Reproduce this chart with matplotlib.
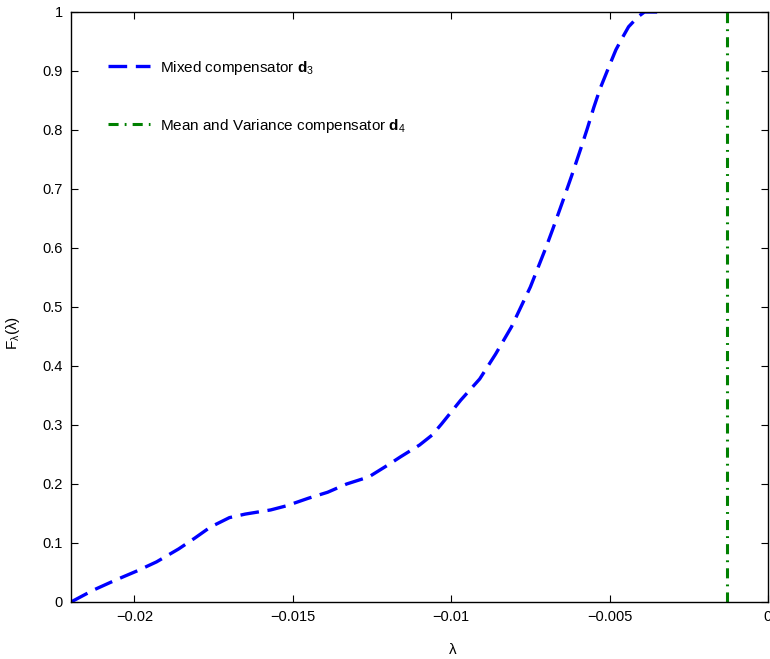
import matplotlib
matplotlib.use("Agg")
import matplotlib.pyplot as plt

plt.rcParams['font.family'] = ['Liberation Sans', 'DejaVu Sans']
plt.rcParams['mathtext.fontset'] = 'custom'
plt.rcParams['mathtext.rm'] = 'Liberation Sans'
plt.rcParams['mathtext.it'] = 'Liberation Sans:italic'
plt.rcParams['mathtext.bf'] = 'Liberation Sans:bold'

lam_d3 = [-0.0220, -0.0213, -0.0206, -0.0199, -0.0193, -0.0186, -0.0181, -0.0176,
          -0.0170, -0.0165, -0.0157, -0.0152, -0.0145, -0.0139, -0.0133, -0.0126,
          -0.0120, -0.0116, -0.0110, -0.0106, -0.0103, -0.0097, -0.0091, -0.0086,
          -0.0081, -0.0078, -0.0075, -0.00725, -0.0070, -0.0068, -0.0065, -0.0062,
          -0.0059, -0.0057, -0.0055, -0.0053, -0.0050, -0.0048, -0.0046, -0.0044,
          -0.0041, -0.0039, -0.0034]
F_d3 = [0.000, 0.020, 0.037, 0.053, 0.068, 0.090, 0.108, 0.127,
        0.143, 0.149, 0.156, 0.163, 0.176, 0.186, 0.200, 0.212,
        0.232, 0.246, 0.266, 0.283, 0.302, 0.342, 0.378, 0.420,
        0.466, 0.500, 0.534, 0.568, 0.602, 0.631, 0.676, 0.722,
        0.770, 0.803, 0.838, 0.870, 0.910, 0.936, 0.956, 0.975,
        0.992, 1.000, 1.000]

# mean and variance compensator d4 (vertical step)
lam_d4 = [-0.0013, -0.0013]
F_d4 = [0.0, 1.0]

fig = plt.figure(figsize=(7.70, 6.59), dpi=100)
ax = fig.add_axes([0.0922, 0.0865, 0.9052, 0.8953])

ax.plot(lam_d3, F_d3, color='blue', lw=2.4, dashes=(5.6, 2.6),
        label=r'Mixed compensator $\mathbf{d}_3$')
ax.plot(lam_d4, F_d4, color='#008000', lw=2.2, dashes=(3.3, 2, 0.6, 2),
        label=r'Mean and Variance compensator $\mathbf{d}_4$')

ax.set_xlim(-0.022, 0)
ax.set_ylim(0, 1)
ax.set_xticks([-0.02, -0.015, -0.01, -0.005, 0])
ax.set_xticklabels(['\u22120.02', '\u22120.015', '\u22120.01', '\u22120.005', '0'])
ax.set_yticks([i / 10 for i in range(11)])
ax.set_yticklabels(['0', '0.1', '0.2', '0.3', '0.4', '0.5', '0.6', '0.7', '0.8', '0.9', '1'])
ax.tick_params(direction='in', top=True, right=True, length=5, labelsize=10.5, pad=6)
for s in ax.spines.values():
    s.set_linewidth(1.0)

ax.set_xlabel('\u03bb', fontsize=11)
ax.xaxis.set_label_coords(0.548, -0.07)
ax.set_ylabel('F$_{\\mathrm{\\lambda}}$(\u03bb)', fontsize=11)
ax.yaxis.set_label_coords(-0.07, 0.456)

ax.legend(loc='upper left', bbox_to_anchor=(0.033, 0.944), frameon=False,
          fontsize=11, handlelength=2.75, labelspacing=2.6, handletextpad=0.7)

fig.savefig('out.png', dpi=100)
